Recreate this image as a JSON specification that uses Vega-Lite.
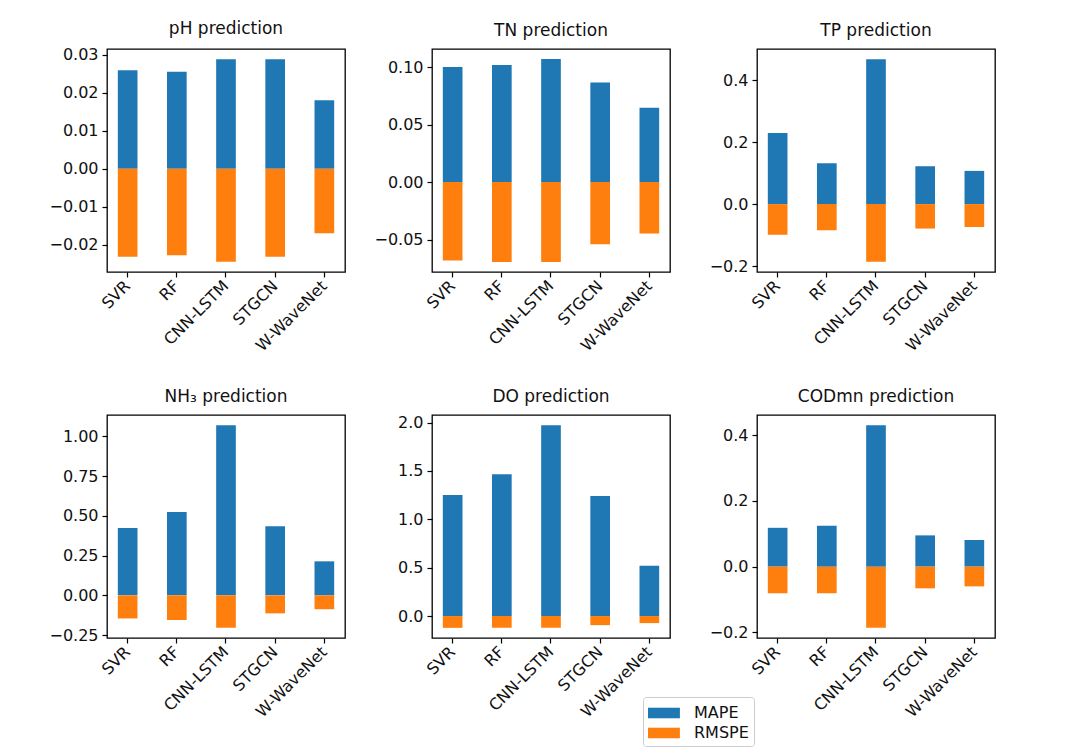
{
  "$schema": "https://vega.github.io/schema/vega-lite/v6.json",
  "background": "white",
  "padding": {"left": 48, "top": 19, "right": 5, "bottom": 5},
  "data": {"values": [
    {"panel": "pH", "model": "SVR", "metric": "MAPE", "value": 0.0259},
    {"panel": "pH", "model": "RF", "metric": "MAPE", "value": 0.0255},
    {"panel": "pH", "model": "CNN-LSTM", "metric": "MAPE", "value": 0.0288},
    {"panel": "pH", "model": "STGCN", "metric": "MAPE", "value": 0.0288},
    {"panel": "pH", "model": "W-WaveNet", "metric": "MAPE", "value": 0.0180},
    {"panel": "pH", "model": "SVR", "metric": "RMSPE", "value": -0.0232},
    {"panel": "pH", "model": "RF", "metric": "RMSPE", "value": -0.0228},
    {"panel": "pH", "model": "CNN-LSTM", "metric": "RMSPE", "value": -0.0245},
    {"panel": "pH", "model": "STGCN", "metric": "RMSPE", "value": -0.0232},
    {"panel": "pH", "model": "W-WaveNet", "metric": "RMSPE", "value": -0.0170},
    {"panel": "TN", "model": "SVR", "metric": "MAPE", "value": 0.1002},
    {"panel": "TN", "model": "RF", "metric": "MAPE", "value": 0.1018},
    {"panel": "TN", "model": "CNN-LSTM", "metric": "MAPE", "value": 0.107},
    {"panel": "TN", "model": "STGCN", "metric": "MAPE", "value": 0.0866},
    {"panel": "TN", "model": "W-WaveNet", "metric": "MAPE", "value": 0.0647},
    {"panel": "TN", "model": "SVR", "metric": "RMSPE", "value": -0.0682},
    {"panel": "TN", "model": "RF", "metric": "RMSPE", "value": -0.0694},
    {"panel": "TN", "model": "CNN-LSTM", "metric": "RMSPE", "value": -0.0694},
    {"panel": "TN", "model": "STGCN", "metric": "RMSPE", "value": -0.054},
    {"panel": "TN", "model": "W-WaveNet", "metric": "RMSPE", "value": -0.0447},
    {"panel": "TP", "model": "SVR", "metric": "MAPE", "value": 0.229},
    {"panel": "TP", "model": "RF", "metric": "MAPE", "value": 0.132},
    {"panel": "TP", "model": "CNN-LSTM", "metric": "MAPE", "value": 0.467},
    {"panel": "TP", "model": "STGCN", "metric": "MAPE", "value": 0.122},
    {"panel": "TP", "model": "W-WaveNet", "metric": "MAPE", "value": 0.107},
    {"panel": "TP", "model": "SVR", "metric": "RMSPE", "value": -0.099},
    {"panel": "TP", "model": "RF", "metric": "RMSPE", "value": -0.084},
    {"panel": "TP", "model": "CNN-LSTM", "metric": "RMSPE", "value": -0.186},
    {"panel": "TP", "model": "STGCN", "metric": "RMSPE", "value": -0.079},
    {"panel": "TP", "model": "W-WaveNet", "metric": "RMSPE", "value": -0.074},
    {"panel": "NH3", "model": "SVR", "metric": "MAPE", "value": 0.424},
    {"panel": "NH3", "model": "RF", "metric": "MAPE", "value": 0.524},
    {"panel": "NH3", "model": "CNN-LSTM", "metric": "MAPE", "value": 1.07},
    {"panel": "NH3", "model": "STGCN", "metric": "MAPE", "value": 0.435},
    {"panel": "NH3", "model": "W-WaveNet", "metric": "MAPE", "value": 0.214},
    {"panel": "NH3", "model": "SVR", "metric": "RMSPE", "value": -0.145},
    {"panel": "NH3", "model": "RF", "metric": "RMSPE", "value": -0.155},
    {"panel": "NH3", "model": "CNN-LSTM", "metric": "RMSPE", "value": -0.204},
    {"panel": "NH3", "model": "STGCN", "metric": "RMSPE", "value": -0.113},
    {"panel": "NH3", "model": "W-WaveNet", "metric": "RMSPE", "value": -0.087},
    {"panel": "DO", "model": "SVR", "metric": "MAPE", "value": 1.25},
    {"panel": "DO", "model": "RF", "metric": "MAPE", "value": 1.466},
    {"panel": "DO", "model": "CNN-LSTM", "metric": "MAPE", "value": 1.973},
    {"panel": "DO", "model": "STGCN", "metric": "MAPE", "value": 1.24},
    {"panel": "DO", "model": "W-WaveNet", "metric": "MAPE", "value": 0.52},
    {"panel": "DO", "model": "SVR", "metric": "RMSPE", "value": -0.122},
    {"panel": "DO", "model": "RF", "metric": "RMSPE", "value": -0.122},
    {"panel": "DO", "model": "CNN-LSTM", "metric": "RMSPE", "value": -0.122},
    {"panel": "DO", "model": "STGCN", "metric": "RMSPE", "value": -0.094},
    {"panel": "DO", "model": "W-WaveNet", "metric": "RMSPE", "value": -0.073},
    {"panel": "CODmn", "model": "SVR", "metric": "MAPE", "value": 0.118},
    {"panel": "CODmn", "model": "RF", "metric": "MAPE", "value": 0.124},
    {"panel": "CODmn", "model": "CNN-LSTM", "metric": "MAPE", "value": 0.43},
    {"panel": "CODmn", "model": "STGCN", "metric": "MAPE", "value": 0.095},
    {"panel": "CODmn", "model": "W-WaveNet", "metric": "MAPE", "value": 0.081},
    {"panel": "CODmn", "model": "SVR", "metric": "RMSPE", "value": -0.081},
    {"panel": "CODmn", "model": "RF", "metric": "RMSPE", "value": -0.081},
    {"panel": "CODmn", "model": "CNN-LSTM", "metric": "RMSPE", "value": -0.186},
    {"panel": "CODmn", "model": "STGCN", "metric": "RMSPE", "value": -0.066},
    {"panel": "CODmn", "model": "W-WaveNet", "metric": "RMSPE", "value": -0.060}
  ]},
  "columns": 3,
  "spacing": {"row": 143, "column": 87},
  "bounds": "flush",
  "concat": [
    {
      "title": "pH prediction",
      "width": 238, "height": 223,
      "transform": [{"filter": "datum.panel === 'pH'"}],
      "mark": {"type": "bar", "stroke": null},
      "encoding": {
        "x": {"field": "model", "type": "nominal", "sort": ["SVR", "RF", "CNN-LSTM", "STGCN", "W-WaveNet"], "scale": {"paddingInner": 0.6, "paddingOuter": 0.22}, "axis": {"title": null}},
        "y": {"field": "value", "type": "quantitative", "stack": null, "scale": {"domain": [-0.0272, 0.0315], "nice": false, "zero": false}, "axis": {"title": null, "values": [-0.02, -0.01, 0, 0.01, 0.02, 0.03], "format": ".2f"}},
        "color": {"field": "metric", "type": "nominal", "scale": {"domain": ["MAPE", "RMSPE"], "range": ["#1f77b4", "#ff7f0e"]}, "legend": {"title": null, "orient": "none", "legendX": 536, "legendY": 648}}
      }
    },
    {
      "title": "TN prediction",
      "width": 238, "height": 223,
      "transform": [{"filter": "datum.panel === 'TN'"}],
      "mark": {"type": "bar", "stroke": null},
      "encoding": {
        "x": {"field": "model", "type": "nominal", "sort": ["SVR", "RF", "CNN-LSTM", "STGCN", "W-WaveNet"], "scale": {"paddingInner": 0.6, "paddingOuter": 0.22}, "axis": {"title": null}},
        "y": {"field": "value", "type": "quantitative", "stack": null, "scale": {"domain": [-0.0782, 0.1158], "nice": false, "zero": false}, "axis": {"title": null, "values": [-0.05, 0, 0.05, 0.1], "format": ".2f"}},
        "color": {"field": "metric", "type": "nominal", "scale": {"domain": ["MAPE", "RMSPE"], "range": ["#1f77b4", "#ff7f0e"]}, "legend": {"title": null, "orient": "none", "legendX": 536, "legendY": 648}}
      }
    },
    {
      "title": "TP prediction",
      "width": 238, "height": 223,
      "transform": [{"filter": "datum.panel === 'TP'"}],
      "mark": {"type": "bar", "stroke": null},
      "encoding": {
        "x": {"field": "model", "type": "nominal", "sort": ["SVR", "RF", "CNN-LSTM", "STGCN", "W-WaveNet"], "scale": {"paddingInner": 0.6, "paddingOuter": 0.22}, "axis": {"title": null}},
        "y": {"field": "value", "type": "quantitative", "stack": null, "scale": {"domain": [-0.219, 0.5], "nice": false, "zero": false}, "axis": {"title": null, "values": [-0.2, 0, 0.2, 0.4], "format": ".1f"}},
        "color": {"field": "metric", "type": "nominal", "scale": {"domain": ["MAPE", "RMSPE"], "range": ["#1f77b4", "#ff7f0e"]}, "legend": {"title": null, "orient": "none", "legendX": 536, "legendY": 648}}
      }
    },
    {
      "title": "NH₃ prediction",
      "width": 238, "height": 223,
      "transform": [{"filter": "datum.panel === 'NH3'"}],
      "mark": {"type": "bar", "stroke": null},
      "encoding": {
        "x": {"field": "model", "type": "nominal", "sort": ["SVR", "RF", "CNN-LSTM", "STGCN", "W-WaveNet"], "scale": {"paddingInner": 0.6, "paddingOuter": 0.22}, "axis": {"title": null}},
        "y": {"field": "value", "type": "quantitative", "stack": null, "scale": {"domain": [-0.268, 1.134], "nice": false, "zero": false}, "axis": {"title": null, "values": [-0.25, 0, 0.25, 0.5, 0.75, 1.0], "format": ".2f"}},
        "color": {"field": "metric", "type": "nominal", "scale": {"domain": ["MAPE", "RMSPE"], "range": ["#1f77b4", "#ff7f0e"]}, "legend": {"title": null, "orient": "none", "legendX": 536, "legendY": 648}}
      }
    },
    {
      "title": "DO prediction",
      "width": 238, "height": 223,
      "transform": [{"filter": "datum.panel === 'DO'"}],
      "mark": {"type": "bar", "stroke": null},
      "encoding": {
        "x": {"field": "model", "type": "nominal", "sort": ["SVR", "RF", "CNN-LSTM", "STGCN", "W-WaveNet"], "scale": {"paddingInner": 0.6, "paddingOuter": 0.22}, "axis": {"title": null}},
        "y": {"field": "value", "type": "quantitative", "stack": null, "scale": {"domain": [-0.227, 2.078], "nice": false, "zero": false}, "axis": {"title": null, "values": [0, 0.5, 1.0, 1.5, 2.0], "format": ".1f"}},
        "color": {"field": "metric", "type": "nominal", "scale": {"domain": ["MAPE", "RMSPE"], "range": ["#1f77b4", "#ff7f0e"]}, "legend": {"title": null, "orient": "none", "legendX": 536, "legendY": 648}}
      }
    },
    {
      "title": "CODmn prediction",
      "width": 238, "height": 223,
      "transform": [{"filter": "datum.panel === 'CODmn'"}],
      "mark": {"type": "bar", "stroke": null},
      "encoding": {
        "x": {"field": "model", "type": "nominal", "sort": ["SVR", "RF", "CNN-LSTM", "STGCN", "W-WaveNet"], "scale": {"paddingInner": 0.6, "paddingOuter": 0.22}, "axis": {"title": null}},
        "y": {"field": "value", "type": "quantitative", "stack": null, "scale": {"domain": [-0.217, 0.461], "nice": false, "zero": false}, "axis": {"title": null, "values": [-0.2, 0, 0.2, 0.4], "format": ".1f"}},
        "color": {"field": "metric", "type": "nominal", "scale": {"domain": ["MAPE", "RMSPE"], "range": ["#1f77b4", "#ff7f0e"]}, "legend": {"title": null, "orient": "none", "legendX": 536, "legendY": 648}}
      }
    }
  ],
  "resolve": {"scale": {"x": "independent", "y": "independent"}},
  "config": {
    "font": "DejaVu Sans",
    "view": {"stroke": "#000000", "strokeWidth": 1.3},
    "title": {"fontSize": 17, "fontWeight": "normal", "color": "#111111", "offset": 9, "font": "DejaVu Sans"},
    "axis": {
      "grid": false,
      "domain": false,
      "tickColor": "#000000",
      "tickSize": 5,
      "tickWidth": 1.2,
      "labelFontSize": 16,
      "labelColor": "#111111",
      "labelPadding": 4,
      "labelFont": "DejaVu Sans"
    },
    "axisX": {"labelAngle": -45, "labelAlign": "right", "labelBaseline": "middle", "labelPadding": 6},
    "legend": {
      "labelFontSize": 16,
      "labelColor": "#111111",
      "labelFont": "DejaVu Sans",
      "symbolType": "M-1,-0.48H1.9V0.48H-1Z",
      "symbolSize": 484,
      "symbolStrokeWidth": 0,
      "labelOffset": 24,
      "rowPadding": 1,
      "padding": 5,
      "strokeColor": "#cccccc",
      "fillColor": "#ffffff",
      "cornerRadius": 3
    }
  }
}
